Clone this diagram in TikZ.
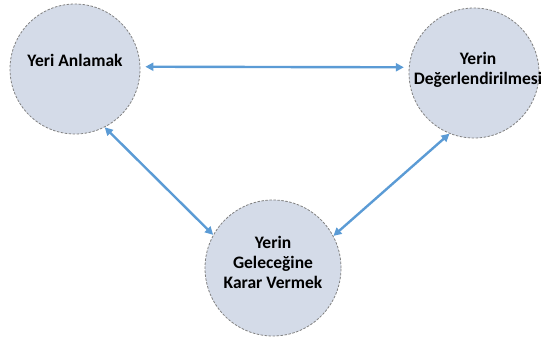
\documentclass[tikz,border=0pt]{standalone}
\usepackage{fontspec}
\setmainfont{Carlito}
\usepackage{xcolor}
\usepackage{tikz}
\usetikzlibrary{arrows.meta,positioning}

\definecolor{placefill}{RGB}{212,219,232}
\definecolor{placeedge}{RGB}{128,128,128}
\definecolor{linkblue}{RGB}{91,155,213}

\begin{document}
\begin{tikzpicture}[x=1pt, y=-1pt,
    place/.style={circle, draw=placeedge, dash pattern=on 2.5pt off 1.5pt, line width=0.8pt, fill=placefill, minimum size=130pt, inner sep=0pt},
    caption/.style={font=\fontsize{17.5}{20}\selectfont\bfseries, align=center, inner sep=0pt},
    link/.style={{Triangle[length=8pt,width=8pt]}-{Triangle[length=8pt,width=8pt]}, linkblue, line width=2.4pt}]
    % Canvas (1 unit = 1 pixel of the original)
    \useasboundingbox (0,0) rectangle (541,341);

    % Circles
    \node[place] (yeri) at (75,69) {};
    \node[place] (deger) at (474,73) {};
    \node[place, minimum size=136pt] (gelecek) at (273,268) {};

    % Texts
    \node[caption] (yeriT) at ([yshift=9pt]yeri.center) {Yeri Anlamak};
    \node[caption] (degerT) at ([xshift=4pt, yshift=3pt]deger.center) {Yerin\\Değerlendirilmesi};
    \node[caption] (gelecekT) at ([yshift=6pt]gelecek.center) {Yerin\\Geleceğine\\Karar Vermek};

    % Links
    \draw[link, shorten <=5pt, shorten >=5pt] (yeri.2) -- (deger.175);
    \draw[link] (yeri.-63) -- (gelecek.151);
    \draw[link] (gelecek.28) -- (deger.-112);
\end{tikzpicture}
\end{document}
